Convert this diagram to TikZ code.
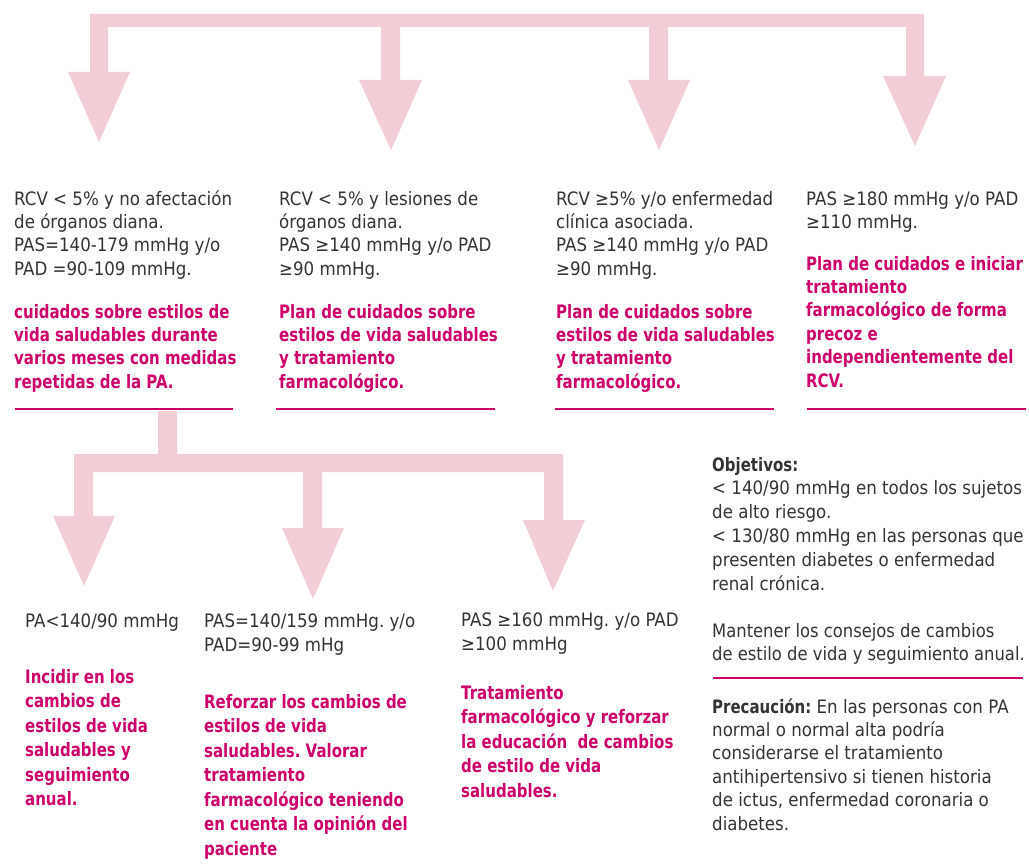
\documentclass[tikz,border=0pt]{standalone}
\usepackage{fontspec}
\setmainfont{DejaVu Sans}[FakeStretch=0.9, BoldFeatures={FakeStretch=0.81}]
\definecolor{pinkarrow}{HTML}{F2CED6}
\definecolor{magtext}{HTML}{CC0068}
\definecolor{graytext}{HTML}{333333}
\tikzset{
  blk/.style={fill=pinkarrow, draw=none},
  magline/.style={draw=magtext, line width=2.3pt},
  txtA/.style={anchor=north west, inner sep=0pt, align=left, text=graytext, font=\frenchspacing\fontsize{18.5}{23.4}\selectfont},
  txtM/.style={anchor=north west, inner sep=0pt, align=left, text=magtext, font=\frenchspacing\bfseries\fontsize{18.5}{23.4}\selectfont},
  txtB/.style={anchor=north west, inner sep=0pt, align=left, text=graytext, font=\frenchspacing\fontsize{18.5}{24}\selectfont},
  txtN/.style={anchor=north west, inner sep=0pt, align=left, text=magtext, font=\frenchspacing\bfseries\fontsize{18.5}{24.5}\selectfont},
  txtR/.style={anchor=north west, inner sep=0pt, align=left, text=graytext, font=\frenchspacing\fontsize{18.5}{23.8}\selectfont},
}
\begin{document}
\frenchspacing
\begin{tikzpicture}[x=1pt,y=-1pt]
\useasboundingbox (0,0) rectangle (1029,864);

% top block arrows
\fill[blk] (90,14) -- (924,14) -- (924,76) -- (946,76) -- (915,146) -- (883,76) -- (906,76) -- (906,27)
  -- (668,27) -- (668,80) -- (690,80) -- (659,150) -- (628,80) -- (649,80) -- (649,27)
  -- (400,27) -- (400,80) -- (422,80) -- (391,150) -- (359,80) -- (381,80) -- (381,27)
  -- (108,27) -- (108,72) -- (130,72) -- (99,142) -- (68,72) -- (90,72) -- cycle;

% lower block arrows
\fill[blk] (158,411) -- (177,411) -- (177,454) -- (563,454) -- (563,520) -- (585,520) -- (553,591) -- (523,520) -- (544,520) -- (544,472)
  -- (322,472) -- (322,528) -- (344,528) -- (313,599) -- (282,528) -- (303,528) -- (303,472)
  -- (93,472) -- (93,516) -- (115,516) -- (84,586) -- (53,516) -- (74,516) -- (74,454) -- (158,454) -- cycle;

% rules
\draw[magline] (15,409) -- (233,409);
\draw[magline] (276,409) -- (495,409);
\draw[magline] (555,409) -- (774,409);
\draw[magline] (807,409) -- (1026,409);
\draw[magline] (713,678) -- (1023,678);

% top columns
\node[txtA] (c1a) at (14,188.6) {\strut RCV < 5\% y no afectación\\de órganos diana.\\PAS=140-179 mmHg y/o\\PAD =90-109 mmHg.};
\node[txtM] (c1b) at (14,301.6) {\strut cuidados sobre estilos de\\vida saludables durante\\varios meses con medidas\\repetidas de la PA.};

\node[txtA] (c2a) at (279,188.6) {\strut RCV < 5\% y lesiones de\\órganos diana.\\PAS ≥140 mmHg y/o PAD\\≥90 mmHg.};
\node[txtM] (c2b) at (279,301.6) {\strut Plan de cuidados sobre\\estilos de vida saludables\\y tratamiento\\farmacológico.};

\node[txtA] (c3a) at (556,188.6) {\strut RCV ≥5\% y/o enfermedad\\clínica asociada.\\PAS ≥140 mmHg y/o PAD\\≥90 mmHg.};
\node[txtM] (c3b) at (556,301.6) {\strut Plan de cuidados sobre\\estilos de vida saludables\\y tratamiento\\farmacológico.};

\node[txtA] (c4a) at (806,188.6) {\strut PAS ≥180 mmHg y/o PAD\\≥110 mmHg.};
\node[txtM] (c4b) at (806,253.6) {\strut Plan de cuidados e iniciar\\tratamiento\\farmacológico de forma\\precoz e\\independientemente del\\RCV.};

% lower columns
\node[txtB] (d1a) at (25,610.2) {\strut PA<140/90 mmHg};
\node[txtN] (d1b) at (25,665.9) {\strut Incidir en los\\cambios de\\estilos de vida\\saludables y\\seguimiento\\anual.};

\node[txtB] (d2a) at (204,610.2) {\strut PAS=140/159 mmHg. y/o\\PAD=90-99 mHg};
\node[txtN] (d2b) at (204,690.9) {\strut Reforzar los cambios de\\estilos de vida\\saludables. Valorar\\tratamiento\\farmacológico teniendo\\en cuenta la opinión del\\paciente};

\node[txtB] (d3a) at (461,609.5) {\strut PAS ≥160 mmHg. y/o PAD\\≥100 mmHg};
\node[txtN] (d3b) at (461,681.9) {\strut Tratamiento\\farmacológico y reforzar\\la educación\ \ de cambios\\de estilo de vida\\saludables.};

% right panel
\node[txtR] (obj) at (712,454.3) {\strut\textbf{Objetivos:}\\< 140/90 mmHg en todos los sujetos\\de alto riesgo.\\< 130/80 mmHg en las personas que\\presenten diabetes o enfermedad\\renal crónica.};
\node[txtA, font=\frenchspacing\fontsize{18.5}{23}\selectfont\addfontfeature{FakeStretch=0.885}] (mant) at (712,620.9) {\strut Mantener los consejos de cambios\\de estilo de vida y seguimiento anual.};
\node[txtA] (prec) at (712,696.6) {\strut\textbf{Precaución:} En las personas con PA\\normal o normal alta podría\\considerarse el tratamiento\\antihipertensivo si tienen historia\\de ictus, enfermedad coronaria o\\diabetes.};
\end{tikzpicture}
\end{document}
